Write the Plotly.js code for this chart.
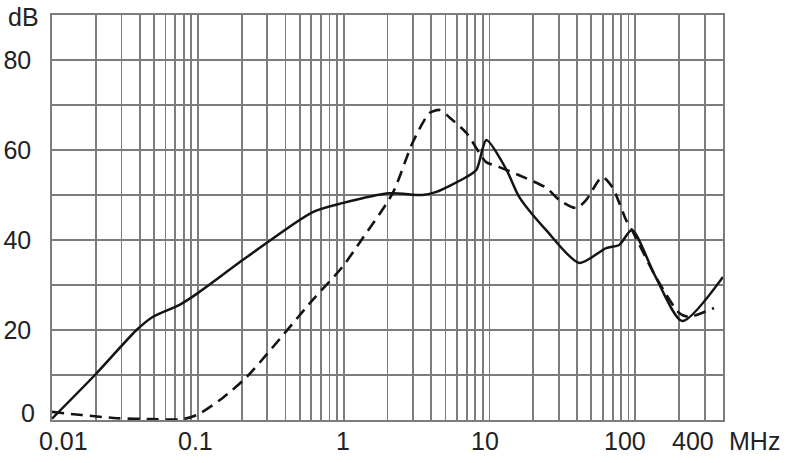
<!DOCTYPE html>
<html>
<head>
<meta charset="utf-8">
<script src="https://cdn.plot.ly/plotly-3.0.1.min.js"></script>
<style>
  html, body { margin: 0; padding: 0; background: #fff; }
  #chart { width: 790px; height: 463px; }
</style>
</head>
<body>
<div id="chart"></div>
<script>
// Frequency (MHz) and level (dB)
const solidFreq = [0.01, 0.0197, 0.038, 0.049, 0.075, 0.1, 0.217, 0.614, 0.98, 2.07, 3.48, 4.33, 6.95, 8.15, 9.53, 13.1, 16, 24.5, 41.3, 63.2, 77.6, 95, 138, 210, 400];
const solidDb   = [0.3, 10, 20, 22.9, 25.6, 28.2, 36.2, 46.2, 48.2, 50.4, 50, 50.7, 54, 55.6, 62.2, 55.6, 49.6, 42.2, 34.9, 38.2, 38.9, 42.2, 31.8, 22, 31.8];

const dashFreq = [0.01, 0.016, 0.028, 0.047, 0.079, 0.1, 0.148, 0.217, 0.614, 0.98, 1.35, 2.17, 2.97, 3.88, 4.55, 5.3, 6.95, 8.55, 9.5, 11.7, 16, 24.5, 30.1, 39.4, 46.1, 59.4, 69.5, 86.7, 95, 140, 200, 234, 347];
const dashDb   = [1.8, 1.1, 0.4, 0.2, 0.2, 1.2, 4.9, 9.6, 26.7, 34, 40.4, 50.4, 61.6, 68.2, 68.9, 67.3, 63.8, 59.3, 57.3, 56.2, 54.4, 51.6, 48.9, 47.1, 48.9, 54, 51.8, 44.4, 42.2, 31.5, 23.8, 22.9, 24.9];

// Axis labels
const xLabelVals = [0.01, 0.1, 1, 10, 100, 400];
const xLabelText = ['0.01', '0.1', '1', '10', '100', '400'];
const xLabelShift = [11, -2, -1, -4, -10, -30];
const xUnit = 'MHz';
const yTickVals = [0, 10, 20, 30, 40, 50, 60, 70, 80, 90];
const yTickText = ['', '', '20', '', '40', '', '60', '', '80', ''];
const yUnit = 'dB';

// Gridline positions on the log axis (1..9 per decade up to 400)
const gridDecades = [0.01, 0.1, 1, 10, 100];
const gridMult = [1, 2, 3, 4, 5, 6, 7, 8, 9];
const xGrid = [];
gridDecades.forEach(d => gridMult.forEach(m => { const v = +(d * m).toPrecision(3); if (v <= 400) xGrid.push(v); }));

const font = { family: 'Liberation Sans, Arial, sans-serif', size: 25, color: '#222' };
const gridColor = '#7c7c7c';

const traces = [
  { x: solidFreq, y: solidDb, mode: 'lines', type: 'scatter',
    line: { color: '#141414', width: 2.5, shape: 'spline', smoothing: 0.7 }, hoverinfo: 'skip' },
  { x: dashFreq, y: dashDb, mode: 'lines', type: 'scatter',
    line: { color: '#141414', width: 2.6, dash: '12px,7px', shape: 'spline', smoothing: 0.7 }, hoverinfo: 'skip' }
];

const annotations = xLabelVals.map((v, i) => ({
  x: Math.log10(v), y: 0, xref: 'x', yref: 'paper', text: xLabelText[i],
  showarrow: false, xanchor: 'center', yanchor: 'middle', yshift: -21, xshift: xLabelShift[i], font: font
}));
annotations.push({ x: Math.log10(400), y: 0, xref: 'x', yref: 'paper', text: xUnit, showarrow: false,
  xanchor: 'left', yanchor: 'middle', yshift: -21, xshift: 4, font: font });
annotations.push({ x: 0, y: 90, xref: 'paper', yref: 'y', text: yUnit, showarrow: false,
  xanchor: 'right', yanchor: 'middle', xshift: -11, yshift: -2, font: font });
annotations.push({ x: 0, y: 0, xref: 'paper', yref: 'y', text: '0', showarrow: false,
  xanchor: 'right', yanchor: 'middle', xshift: -15, yshift: 7, font: font });

const layout = {
  width: 790, height: 463,
  margin: { l: 52, r: 67, t: 15, b: 43 },
  paper_bgcolor: '#fff', plot_bgcolor: '#fff',
  showlegend: false,
  font: font,
  xaxis: {
    type: 'log', range: [Math.log10(0.01), Math.log10(400)],
    tickvals: xGrid, ticktext: xGrid.map(() => ''), ticks: '',
    showgrid: true, gridcolor: gridColor, gridwidth: 1.8,
    showline: true, mirror: true, linecolor: gridColor, linewidth: 1.8,
    zeroline: false, fixedrange: true
  },
  yaxis: {
    range: [0, 90], tickvals: yTickVals, ticktext: yTickText, ticks: '',
    ticklabelstandoff: 14,
    showgrid: true, gridcolor: gridColor, gridwidth: 1.8,
    showline: true, mirror: true, linecolor: gridColor, linewidth: 1.8,
    zeroline: false, fixedrange: true, tickfont: font
  },
  annotations: annotations
};

Plotly.newPlot('chart', traces, layout, { staticPlot: true, displayModeBar: false });
</script>
</body>
</html>
